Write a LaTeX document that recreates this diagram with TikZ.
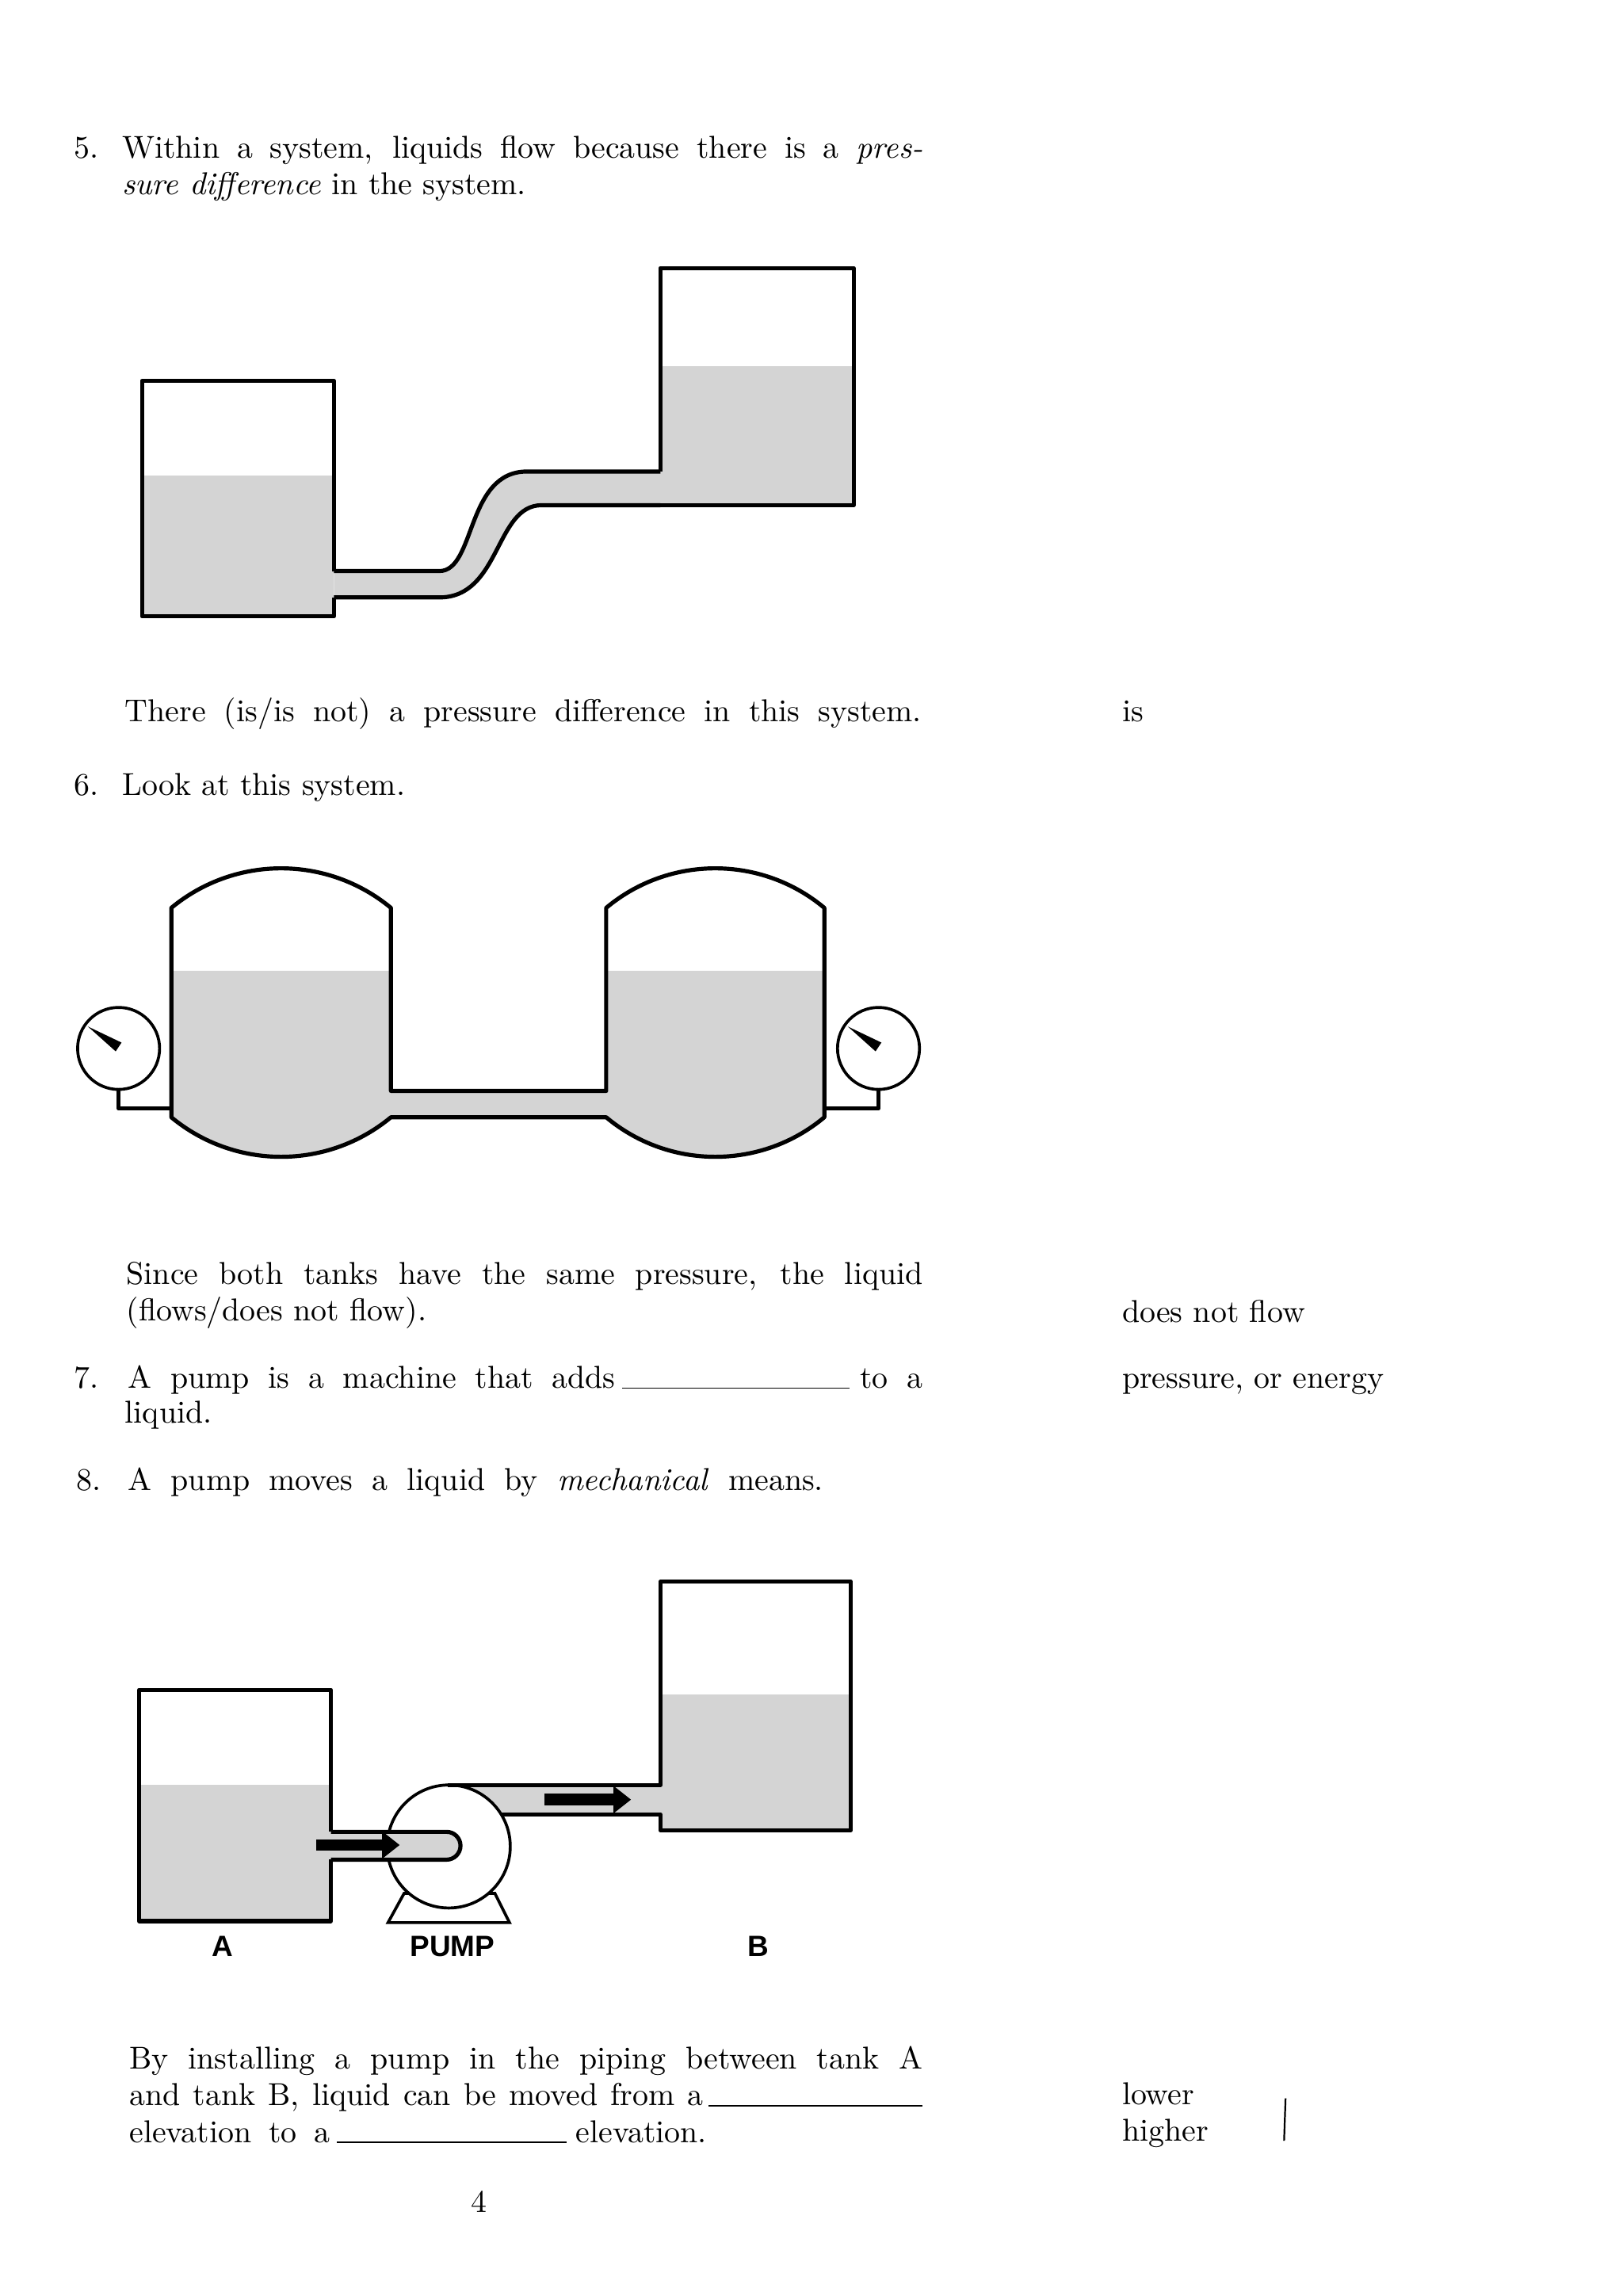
\documentclass[tikz,border=0pt]{standalone}
\usepackage{fontspec}
\newfontfamily\lblfont{Liberation Sans}
\usetikzlibrary{arrows.meta}
\begin{document}
\begin{tikzpicture}[x=0.5pt,y=-0.5pt,
  txt/.style={anchor=base west,inner sep=0,font=\fontsize{10.8}{12}\selectfont},
  lbl/.style={anchor=base,inner sep=0,font=\lblfont\bfseries\fontsize{10}{12}\selectfont},
  wall/.style={line width=1.4pt,line join=round},
  liq/.style={fill=black!17},
  blank/.style={line width=0.5pt},
  flow/.style={line width=4pt,-{Triangle[length=6pt,width=9pt]}}]
\useasboundingbox (0,0) rectangle (1108,1568);
% ---- text 5
\node[txt] (n5) at (50,108) {5.};
\node[txt] (t5a) at (83,108) {\makebox[273.5pt][s]{Within a system, liquids flow because there is a \textit{pres-}}};
\node[txt] (t5b) at (83,133) {\textit{sure difference} in the system.};
% ---- diagram 1
\fill[liq] (97,325) rectangle (228,421);
\fill[liq] (451,250) rectangle (583,345);
\fill[liq] (228,390) -- (300,390) .. controls (325,390) and (318,322) .. (360,322) -- (451,322)
  -- (451,345) -- (370,345) .. controls (338,345) and (342,408) .. (300,408) -- (228,408) -- cycle;
\draw[wall] (228,390) -- (228,260) -- (97,260) -- (97,421) -- (228,421) -- (228,408);
\draw[wall] (451,322) -- (451,183) -- (583,183) -- (583,345) -- (451,345);
\draw[wall] (228,390) -- (300,390) .. controls (325,390) and (318,322) .. (360,322) -- (451,322);
\draw[wall] (228,408) -- (300,408) .. controls (342,408) and (338,345) .. (370,345) -- (451,345);
\node[txt] (t5c) at (85,493) {\makebox[272pt][s]{There (is/is not) a pressure difference in this system.}};
\node[txt] (a5) at (766,493) {is};
% ---- text 6
\node[txt] (n6) at (50,543) {6.};
\node[txt] (t6) at (83,543) {Look at this system.};
% ---- diagram 2
\fill[liq] (117,663) -- (117,763) .. controls (160.5,799) and (223.5,799) .. (267,763) -- (267,663) -- cycle;
\fill[liq] (414,663) -- (414,763) .. controls (457,799) and (520,799) .. (563,763) -- (563,663) -- cycle;
\fill[liq] (267,745) rectangle (414,763);
\draw[wall] (267,745) -- (267,620) .. controls (223.5,584) and (160.5,584) .. (117,620) -- (117,763)
  .. controls (160.5,799) and (223.5,799) .. (267,763) -- (414,763)
  .. controls (457,799) and (520,799) .. (563,763) -- (563,620)
  .. controls (520,584) and (457,584) .. (414,620) -- (414,745) -- cycle;
\draw[line width=1pt] (81,716) circle (28);
\draw[line width=1pt] (600,716) circle (28);
\fill (60,701) -- (83,712) -- (79,718) -- cycle;
\fill (579,701) -- (602,712) -- (598,718) -- cycle;
\draw[wall] (81,744) -- (81,757) -- (117,757);
\draw[wall] (600,744) -- (600,757) -- (563,757);
\node[txt] (t6a) at (86,877) {\makebox[272pt][s]{Since both tanks have the same pressure, the liquid}};
\node[txt] (t6b) at (86,902) {(flows/does not flow).};
\node[txt] (a6) at (766,903) {does not flow};
% ---- text 7
\node[txt] (n7) at (50,948) {7.};
\node[txt] (t7a) at (87,948) {\makebox[166.5pt][s]{A pump is a machine that adds}};
\draw[blank] (425,948) -- (580,948);
\node[txt] (t7b) at (587,948) {\makebox[21.5pt][s]{to a}};
\node[txt] (t7c) at (85,972) {liquid.};
\node[txt] (a7) at (766,948) {pressure, or energy};
% ---- text 8
\node[txt] (n8) at (52,1018) {8.};
\node[txt] (t8) at (87,1018) {\makebox[237.5pt][s]{A pump moves a liquid by \textit{mechanical} means.}};
% ---- diagram 3
\fill[liq] (95,1219) rectangle (226,1312);
\fill[liq] (451,1157) rectangle (581,1250);
\fill[liq] (306,1219) rectangle (451,1239);
\draw[line width=1pt] (265,1313) -- (276,1293) -- (338,1293) -- (348,1313) -- cycle;
\draw[line width=1pt,fill=white] (306.5,1261) circle (42);
\draw[wall] (306,1219) -- (451,1219) -- (451,1080) -- (581,1080) -- (581,1250) -- (451,1250) -- (451,1239) -- (342,1239);
\fill[liq] (226,1251) -- (305,1251) arc[start angle=-90,end angle=90,radius=9.5] -- (226,1270) -- cycle;
\draw[wall] (226,1251) -- (305,1251) arc[start angle=-90,end angle=90,radius=9.5] -- (226,1270);
\draw[wall] (226,1251) -- (226,1154) -- (95,1154) -- (95,1312) -- (226,1312) -- (226,1270);
\coordinate (i1) at (216,1260); \coordinate (i2) at (273,1260);
\coordinate (o1) at (372,1229); \coordinate (o2) at (431,1229);
\draw[flow] (i1) -- (i2);
\draw[flow] (o1) -- (o2);
\node[lbl] (la) at (152,1336) {A};
\node[lbl] (lp) at (309,1336) {PUMP};
\node[lbl] (lb) at (518,1336) {B};
% ---- bottom text
\node[txt] (b1) at (88,1413) {\makebox[271pt][s]{By installing a pump in the piping between tank A}};
\node[txt] (b2) at (88,1438) {\makebox[196pt][s]{and tank B, liquid can be moved from a}};
\draw[blank] (484,1438) -- (630,1438);
\node[txt] (b3) at (88,1463) {\makebox[68.5pt][s]{elevation to a}};
\draw[blank] (230,1463) -- (387,1463);
\node[txt] (b4) at (393,1463) {elevation.};
\node[txt] (a8a) at (766,1437) {lower};
\node[txt] (a8b) at (766,1462) {higher};
\draw[line width=0.6pt] (878,1433) -- (877,1462);
\node[txt,anchor=base] (pg) at (327,1511) {4};
\end{tikzpicture}
\end{document}
